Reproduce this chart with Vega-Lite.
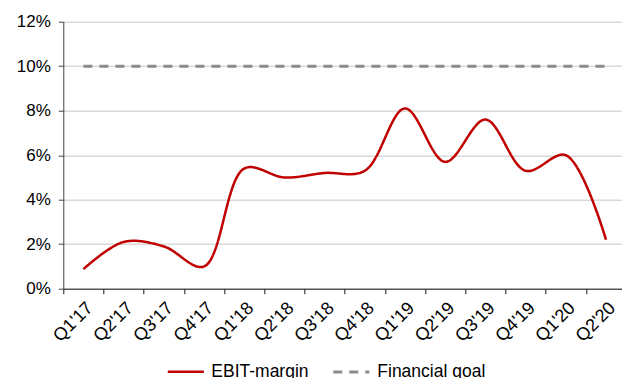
{
  "$schema": "https://vega.github.io/schema/vega-lite/v6.json",
  "width": 558.7,
  "height": 267,
  "autosize": {"type": "none"},
  "padding": {"left": 63.3, "top": 21.7, "right": 0, "bottom": 89.3},
  "background": "white",
  "config": {
    "font": "Liberation Sans",
    "view": {"stroke": null},
    "axis": {"labelColor": "#000000", "labelFontSize": 17, "title": null},
    "legend": {"labelColor": "#000000", "labelFontSize": 17.5}
  },
  "data": {
    "values": [
      {"quarter": "Q1'17", "series": "EBIT-margin", "value": 0.0088},
      {"quarter": "Q2'17", "series": "EBIT-margin", "value": 0.021},
      {"quarter": "Q3'17", "series": "EBIT-margin", "value": 0.019},
      {"quarter": "Q4'17", "series": "EBIT-margin", "value": 0.010},
      {"quarter": "Q1'18", "series": "EBIT-margin", "value": 0.054},
      {"quarter": "Q2'18", "series": "EBIT-margin", "value": 0.050},
      {"quarter": "Q3'18", "series": "EBIT-margin", "value": 0.052},
      {"quarter": "Q4'18", "series": "EBIT-margin", "value": 0.053},
      {"quarter": "Q1'19", "series": "EBIT-margin", "value": 0.081},
      {"quarter": "Q2'19", "series": "EBIT-margin", "value": 0.057},
      {"quarter": "Q3'19", "series": "EBIT-margin", "value": 0.076},
      {"quarter": "Q4'19", "series": "EBIT-margin", "value": 0.053},
      {"quarter": "Q1'20", "series": "EBIT-margin", "value": 0.060},
      {"quarter": "Q2'20", "series": "EBIT-margin", "value": 0.022},
      {"quarter": "Q1'17", "series": "Financial goal", "value": 0.10},
      {"quarter": "Q2'17", "series": "Financial goal", "value": 0.10},
      {"quarter": "Q3'17", "series": "Financial goal", "value": 0.10},
      {"quarter": "Q4'17", "series": "Financial goal", "value": 0.10},
      {"quarter": "Q1'18", "series": "Financial goal", "value": 0.10},
      {"quarter": "Q2'18", "series": "Financial goal", "value": 0.10},
      {"quarter": "Q3'18", "series": "Financial goal", "value": 0.10},
      {"quarter": "Q4'18", "series": "Financial goal", "value": 0.10},
      {"quarter": "Q1'19", "series": "Financial goal", "value": 0.10},
      {"quarter": "Q2'19", "series": "Financial goal", "value": 0.10},
      {"quarter": "Q3'19", "series": "Financial goal", "value": 0.10},
      {"quarter": "Q4'19", "series": "Financial goal", "value": 0.10},
      {"quarter": "Q1'20", "series": "Financial goal", "value": 0.10},
      {"quarter": "Q2'20", "series": "Financial goal", "value": 0.10}
    ]
  },
  "mark": {"type": "line", "interpolate": "catmull-rom"},
  "encoding": {
    "x": {
      "field": "quarter",
      "type": "ordinal",
      "sort": null,
      "bandPosition": 0.5,
      "scale": {"type": "band", "paddingInner": 0, "paddingOuter": 0, "range": [0, 562.8]},
      "axis": {
        "tickBand": "extent",
        "labelAngle": -45,
        "labelAlign": "right",
        "labelBaseline": "top",
        "labelPadding": 5,
        "labelFontSize": 18,
        "tickSize": 5,
        "tickColor": "#1a1a1a",
        "domainColor": "#1a1a1a",
        "grid": false
      }
    },
    "y": {
      "field": "value",
      "type": "quantitative",
      "scale": {"domain": [0, 0.12], "nice": false},
      "axis": {
        "values": [0, 0.02, 0.04, 0.06, 0.08, 0.1, 0.12],
        "format": ".0%",
        "grid": true,
        "gridColor": "#d9d9d9",
        "gridWidth": 1.5,
        "tickSize": 5,
        "tickColor": "#404040",
        "domainColor": "#404040",
        "labelPadding": 8
      }
    },
    "color": {
      "field": "series",
      "type": "nominal",
      "scale": {"domain": ["EBIT-margin", "Financial goal"], "range": ["#c00000", "#8c8c8c"]},
      "legend": {
        "title": null,
        "orient": "none",
        "direction": "horizontal",
        "legendX": 103,
        "legendY": 330,
        "symbolType": "stroke",
        "symbolSize": 1300,
        "symbolStrokeWidth": 2.5,
        "labelOffset": 6,
        "columnPadding": 17
      }
    },
    "strokeDash": {
      "field": "series",
      "type": "nominal",
      "scale": {"domain": ["EBIT-margin", "Financial goal"], "range": [[1, 0], [9, 7]]},
      "legend": {
        "title": null,
        "orient": "none",
        "direction": "horizontal",
        "legendX": 103,
        "legendY": 330,
        "symbolType": "stroke",
        "symbolSize": 1300,
        "symbolStrokeWidth": 2.5,
        "labelOffset": 6,
        "columnPadding": 17
      }
    },
    "strokeWidth": {
      "field": "series",
      "type": "nominal",
      "scale": {"domain": ["EBIT-margin", "Financial goal"], "range": [2.5, 3]},
      "legend": null
    }
  }
}
